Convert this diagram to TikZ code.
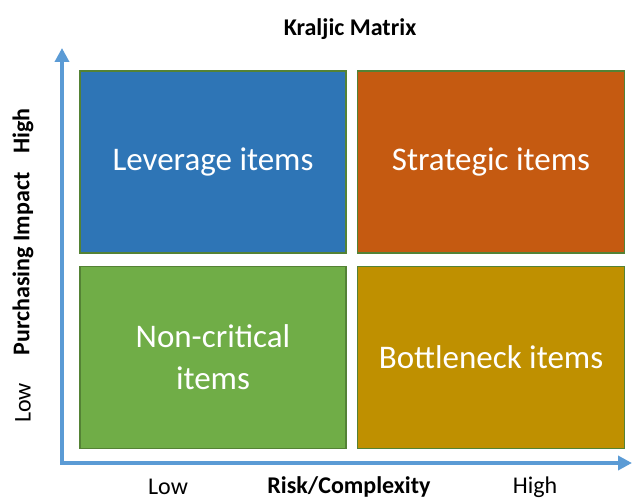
\documentclass[tikz,border=0pt]{standalone}
\usepackage{fontspec}
\setmainfont{Carlito}
\usepackage{tikz}
\usetikzlibrary{arrows.meta,positioning}
\definecolor{levblue}{HTML}{2E75B6}
\definecolor{strorange}{HTML}{C55A11}
\definecolor{noncgreen}{HTML}{70AD47}
\definecolor{botgold}{HTML}{BF9000}
\definecolor{axblue}{HTML}{5B9BD5}
\definecolor{edgegreen}{HTML}{548235}
\begin{document}
\begin{tikzpicture}[x=1pt, y=-1pt,
  quad/.style={draw=edgegreen, line width=1.8pt, minimum width=266pt, minimum height=182pt,
    inner sep=0pt, text=white, align=center, font=\fontsize{33}{42}\selectfont},
  ax/.style={draw=axblue, line width=4pt, {Triangle[width=14pt,length=14pt]}-{Triangle[width=14pt,length=14pt]}},
  lab/.style={font=\fontsize{24}{28}\selectfont, inner sep=0pt},
  blab/.style={lab, font=\fontsize{24}{28}\selectfont\bfseries}]
\useasboundingbox (0,0) rectangle (632,502);
\node[blab] (title) at (350,29) {Kraljic Matrix};
\node[quad, fill=levblue] (lev) at (213,162) {Leverage items};
\node[quad, fill=strorange, minimum width=267pt] (str) at (491,162) {Strategic items};
\node[quad, fill=noncgreen] (nonc) at (213,357.5) {Non-critical\\items};
\node[quad, fill=botgold, minimum width=267pt] (bot) at (491,357.5) {Bottleneck items};
% axes
\coordinate (ytop) at (62,48);
\coordinate (xend) at (632,463);
\draw[ax] (ytop) |- (xend);
% axis labels
\node[lab] (xlow) at (168,487) {Low};
\node[blab] (xname) at (349,487) {Risk/Complexity};
\node[lab] (xhigh) at (535,487) {High};
\node[lab, rotate=90] (ylow) at (23,403) {Low};
\node[blab, rotate=90] (yname) at (23,264) {Purchasing Impact};
\node[blab, rotate=90] (yhigh) at (23,131) {High};
\end{tikzpicture}
\end{document}
